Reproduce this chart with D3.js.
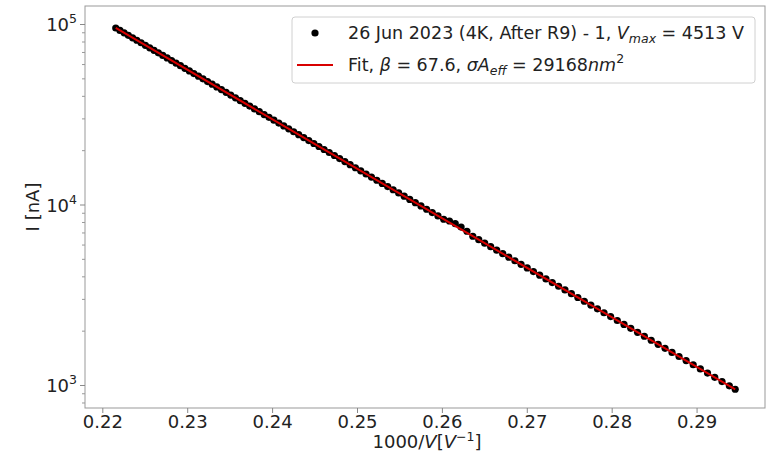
<!DOCTYPE html>
<html><head><meta charset="utf-8">
<script src="https://cdn.jsdelivr.net/npm/d3@7"></script>
<style>
body{margin:0;background:#fff}
text{font-family:'DejaVu Sans',sans-serif;fill:#222}
</style>
</head><body>
<svg id="chart" width="769" height="459"></svg>
<script>
// measured voltage steps [V]
const voltage = [4513,4503,4493,4483,4473,4463,4453,4443,4433,4423,4413,4403,4393,4383,4373,4363,4353,4343,4333,4323,4313,4303,4293,4283,4273,4263,4253,4243,4233,4223,4213,4203,4193,4183,4173,4163,4153,4143,4133,4123,4113,4103,4093,4083,4073,4063,4053,4043,4033,4023,4013,4003,3993,3983,3973,3963,3953,3943,3933,3923,3913,3903,3893,3883,3873,3863,3853,3843,3833,3823,3813,3803,3793,3783,3773,3763,3753,3743,3733,3723,3713,3703,3693,3683,3673,3663,3653,3643,3633,3623,3613,3603,3593,3583,3573,3563,3553,3543,3533,3523,3513,3503,3493,3483,3473,3463,3453,3443,3433,3423,3413,3403,3395];
// measured current [nA]
const current = [95060,92150,89330,86560,83890,81270,78720,76240,73840,71500,69230,67020,64860,62760,60730,58750,56830,54970,53150,51390,49680,48010,46400,44830,43310,41840,40400,39010,37670,36360,35090,33860,32670,31510,30400,29310,28250,27240,26250,25300,24370,23480,22610,21770,20960,20170,19420,18680,17970,17290,16620,15980,15360,14760,14190,13630,13090,12570,12070,11590,11120,10670,10230,9815,9410,9023,8647,8287,8100,7830,7500,7110,6671,6384,6108,5843,5587,5342,5105,4879,4660,4451,4250,4058,3872,3695,3524,3361,3205,3054,2911,2773,2641,2514,2393,2277,2167,2061,1959,1862,1770,1681,1596,1516,1438,1365,1295,1228,1164,1103,1045,990,947];
// Fowler-Nordheim fit line
const fitInvV = [0.22158, 0.24, 0.26, 0.28, 0.29455];
const fitCurrent = [95060, 29700, 8399, 2375, 947];
// ticks
const xTicks = [0.22,0.23,0.24,0.25,0.26,0.27,0.28,0.29];
const xTickLabels = ["0.22","0.23","0.24","0.25","0.26","0.27","0.28","0.29"];
const yTicks = [1e3,1e4,1e5];
const yTickExponents = ["3","4","5"];
const yMinorTicks = [800,900,2000,3000,4000,5000,6000,7000,8000,9000,20000,30000,40000,50000,60000,70000,80000,90000];

const svg = d3.select("#chart");
const L = 85, R = 765, T = 6, B = 408;
const x = d3.scaleLinear().domain([0.21796, 0.29806]).range([L, R]);
const y = d3.scaleLog().domain([745.7, 125830]).range([B, T]);

const pts = voltage.map((v,i)=>({x:1000/v, y:current[i]}));
const fit = fitInvV.map((v,i)=>({x:v, y:fitCurrent[i]}));

svg.append("rect").attr("x",0).attr("y",0).attr("width",769).attr("height",459).attr("fill","#fff");

// points
svg.append("g").selectAll("circle").data(pts).join("circle")
  .attr("cx",d=>x(d.x)).attr("cy",d=>y(d.y)).attr("r",3.6).attr("fill","#000");
// fit line
svg.append("path").datum(fit)
  .attr("d", d3.line().x(d=>x(d.x)).y(d=>y(d.y)))
  .attr("fill","none").attr("stroke","#d80000").attr("stroke-width",2);

// frame
svg.append("rect").attr("x",L).attr("y",T).attr("width",R-L).attr("height",B-T)
  .attr("fill","none").attr("stroke","#999").attr("stroke-width",1);

// x axis
const gx = svg.append("g").attr("transform",`translate(0,${B})`)
  .call(d3.axisBottom(x).tickValues(xTicks).tickSize(5).tickPadding(2)
        .tickFormat((d,i)=>xTickLabels[i]));
gx.select(".domain").remove();
gx.selectAll("line").attr("stroke","#888");
gx.selectAll("text").attr("font-size",18).attr("fill","#222").attr("font-family","'DejaVu Sans',sans-serif");

// y axis major
const gy = svg.append("g").attr("transform",`translate(${L},0)`)
  .call(d3.axisLeft(y).tickValues(yTicks).tickSize(5).tickFormat(""));
gy.select(".domain").remove();
gy.selectAll("line").attr("stroke","#888");
// y minor
const gym = svg.append("g").attr("transform",`translate(${L},0)`)
  .call(d3.axisLeft(y).tickValues(yMinorTicks).tickSize(3).tickFormat(""));
gym.select(".domain").remove();
gym.selectAll("line").attr("stroke","#999");

// y labels with superscripts
yTicks.forEach((t,i)=>{
  const tx = svg.append("text").attr("x",77).attr("y",y(t)+7)
    .attr("text-anchor","end").attr("font-size",18);
  tx.append("tspan").text("10");
  tx.append("tspan").attr("dy",-8).attr("font-size",12.5).text(yTickExponents[i]);
});

// axis titles
const xl = svg.append("text").attr("x",(L+R)/2+2).attr("y",448).attr("text-anchor","middle").attr("font-size",18);
xl.append("tspan").text("1000/");
xl.append("tspan").attr("font-style","italic").text("V");
xl.append("tspan").text("[");
xl.append("tspan").attr("font-style","italic").text("V");
xl.append("tspan").attr("dy",-7).attr("font-size",12.5).text("\u22121");
xl.append("tspan").attr("dy",7).text("]");

svg.append("text").attr("transform",`translate(39,${(T+B)/2}) rotate(-90)`)
  .attr("text-anchor","middle").attr("font-size",18).text("I [nA]");

// legend
const lg = svg.append("g");
lg.append("rect").attr("x",292).attr("y",17).attr("width",463).attr("height",66)
  .attr("rx",3).attr("fill","#fff").attr("fill-opacity",0.8).attr("stroke","#d0d0d0");
lg.append("circle").attr("cx",315).attr("cy",33).attr("r",3.6).attr("fill","#000");
lg.append("line").attr("x1",297).attr("x2",333).attr("y1",65).attr("y2",65)
  .attr("stroke","#d80000").attr("stroke-width",2);
const t1 = lg.append("text").attr("x",348).attr("y",39).attr("font-size",17.5);
t1.append("tspan").text("26 Jun 2023 (4K, After R9) - 1, ");
t1.append("tspan").attr("font-style","italic").text("V");
t1.append("tspan").attr("font-style","italic").attr("font-size",12.5).attr("dy",4).text("max");
t1.append("tspan").attr("dy",-4).text(" = 4513 V");
const t2 = lg.append("text").attr("x",348).attr("y",71).attr("font-size",17.5);
t2.append("tspan").text("Fit, ");
t2.append("tspan").attr("font-style","italic").text("\u03b2");
t2.append("tspan").text(" = 67.6, ");
t2.append("tspan").attr("font-style","italic").text("\u03c3A");
t2.append("tspan").attr("font-style","italic").attr("font-size",12.5).attr("dy",4).text("eff");
t2.append("tspan").attr("dy",-4).text(" = 29168");
t2.append("tspan").attr("font-style","italic").text("nm");
t2.append("tspan").attr("dy",-8).attr("font-size",12.5).text("2");
</script>
</body></html>
